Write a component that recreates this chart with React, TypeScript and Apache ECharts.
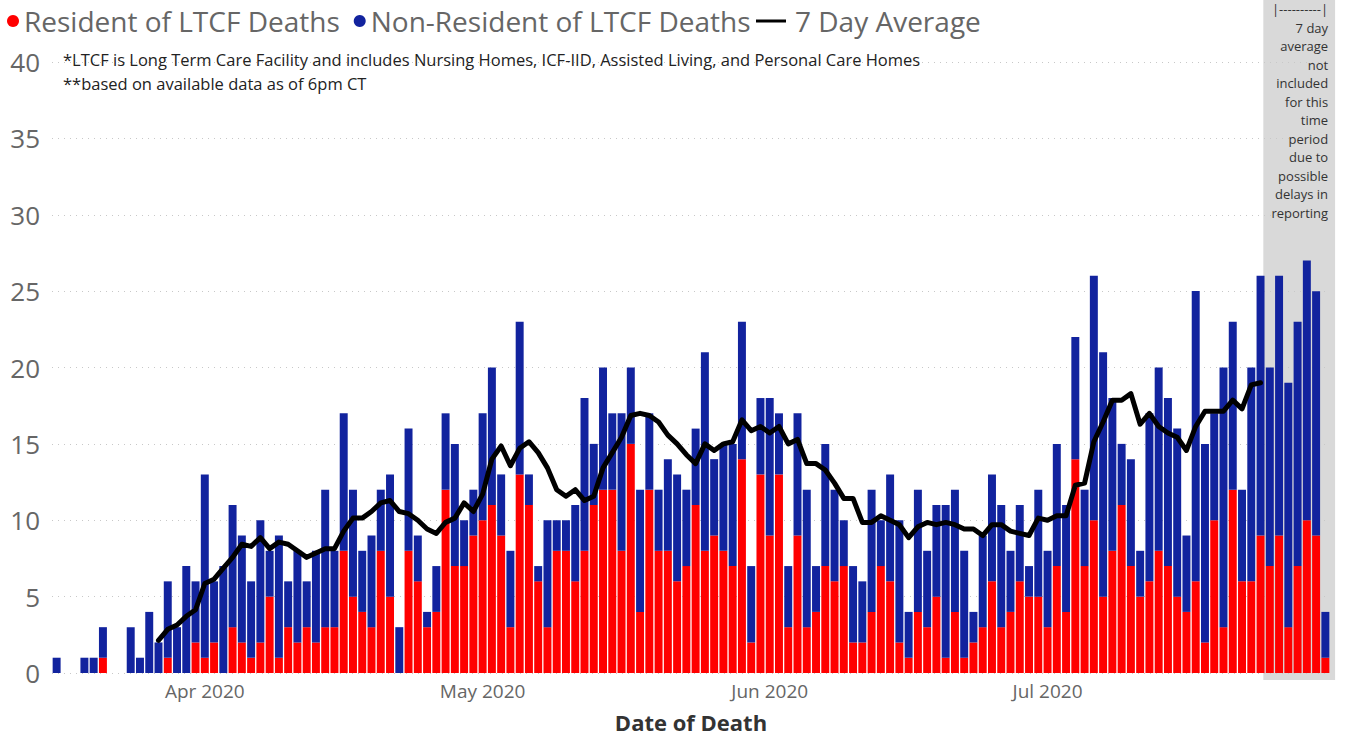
import React, { useEffect, useRef } from "react";
import * as echarts from "echarts";

// Dates of death: 16 Mar 2020 .. 31 Jul 2020 (one category per day)
const FIRST_DAY = "2020-03-16";
const DAY_COUNT = 138;

const monthTickLabels: Record<string, string> = {
  "2020-04-01": "Apr 2020",
  "2020-05-01": "May 2020",
  "2020-06-01": "Jun 2020",
  "2020-07-01": "Jul 2020",
};

// Resident of LTCF deaths (red, bottom of stack)
const residentDeaths = [
  0, 0, 0, 0, 0, 1, 0, 0, 0, 0,
  0, 0, 1, 0, 0, 2, 1, 2, 0, 3,
  2, 1, 2, 5, 1, 3, 2, 3, 2, 3,
  3, 8, 5, 4, 3, 8, 5, 0, 8, 6,
  3, 4, 12, 7, 7, 9, 10, 11, 9, 3,
  13, 11, 6, 3, 8, 8, 6, 8, 11, 12,
  12, 8, 15, 4, 12, 8, 8, 6, 7, 11,
  8, 9, 8, 7, 14, 2, 13, 9, 13, 3,
  9, 3, 4, 7, 6, 7, 2, 2, 4, 7,
  6, 2, 1, 4, 3, 5, 1, 4, 1, 2,
  3, 6, 3, 4, 6, 5, 5, 3, 7, 4,
  14, 7, 10, 5, 8, 11, 7, 5, 6, 8,
  7, 5, 4, 6, 2, 10, 3, 12, 6, 6,
  9, 7, 9, 3, 7, 10, 9, 1,
];

// Non-resident of LTCF deaths (blue, top of stack)
const nonResidentDeaths = [
  1, 0, 0, 1, 1, 2, 0, 0, 3, 1,
  4, 2, 5, 3, 7, 4, 12, 4, 7, 8,
  7, 5, 8, 3, 8, 3, 6, 3, 6, 9,
  5, 9, 7, 4, 6, 4, 8, 3, 8, 3,
  1, 3, 5, 8, 3, 3, 7, 9, 4, 5,
  10, 2, 1, 7, 2, 2, 5, 10, 4, 8,
  5, 9, 5, 8, 5, 4, 6, 7, 5, 5,
  13, 5, 7, 8, 9, 5, 5, 9, 4, 4,
  8, 9, 3, 8, 6, 3, 5, 4, 8, 3,
  7, 8, 3, 8, 5, 6, 10, 8, 7, 2,
  6, 7, 8, 4, 5, 2, 7, 5, 8, 7,
  8, 5, 16, 16, 10, 4, 7, 3, 11, 12,
  11, 11, 5, 19, 13, 7, 17, 11, 6, 14,
  17, 13, 17, 16, 16, 17, 16, 3,
];

// 7 day average (from 27 Mar to 24 Jul)
const AVG_FIRST_INDEX = 11;
const sevenDayAverage = [
  2.14, 2.86, 3.14, 3.71, 4.14, 5.86, 6.14, 6.86, 7.57, 8.43,
  8.29, 8.86, 8.14, 8.57, 8.43, 8.0, 7.57, 7.86, 8.14, 8.14,
  9.29, 10.14, 10.14, 10.57, 11.14, 11.29, 10.57, 10.43, 10.0, 9.43,
  9.14, 9.86, 10.14, 11.14, 10.57, 11.71, 14.0, 14.86, 13.57, 14.71,
  15.14, 14.43, 13.43, 12.0, 11.57, 12.0, 11.29, 11.57, 13.43, 14.43,
  15.43, 16.86, 17.0, 16.86, 16.43, 15.57, 15.0, 14.29, 13.71, 15.0,
  14.57, 15.0, 15.14, 16.57, 15.86, 16.14, 15.71, 16.14, 15.0, 15.29,
  13.71, 13.71, 13.29, 12.43, 11.43, 11.43, 9.86, 9.86, 10.29, 10.0,
  9.71, 8.86, 9.57, 9.86, 9.71, 9.86, 9.71, 9.43, 9.43, 9.0,
  9.71, 9.71, 9.29, 9.14, 9.0, 10.14, 10.0, 10.29, 10.29, 12.29,
  12.43, 15.14, 16.43, 17.86, 17.86, 18.29, 16.29, 17.0, 16.14, 15.71,
  15.43, 14.57, 16.14, 17.14, 17.14, 17.14, 17.86, 17.29, 18.86, 19.0,
];

const yTicks = { min: 0, max: 40, interval: 5 };

const noteLines = [
  "*LTCF is Long Term Care Facility and includes Nursing Homes, ICF-IID, Assisted Living, and Personal Care Homes",
  "**based on available data as of 6pm CT",
];

const delayNoteLines = [
  "|----------|",
  "7 day",
  "average",
  "not",
  "included",
  "for this",
  "time",
  "period",
  "due to",
  "possible",
  "delays in",
  "reporting",
];
// first category covered by the grey "delay" band
const DELAY_FROM_INDEX = 131;

const FONT = '"Open Sans", "Noto Sans", sans-serif';

function buildDates(): string[] {
  const out: string[] = [];
  const d = new Date(FIRST_DAY + "T00:00:00Z");
  for (let i = 0; i < DAY_COUNT; i++) {
    out.push(d.toISOString().slice(0, 10));
    d.setUTCDate(d.getUTCDate() + 1);
  }
  return out;
}

export default function App() {
  const ref = useRef<HTMLDivElement>(null);

  useEffect(() => {
    document.body.style.margin = "0";
    const el = ref.current;
    if (!el) return;
    const chart = echarts.init(el, undefined, { renderer: "svg" });
    const dates = buildDates();
    const avgData: (number | null)[] = dates.map(() => null);
    sevenDayAverage.forEach((v, i) => {
      avgData[AVG_FIRST_INDEX + i] = v;
    });

    chart.setOption({
      animation: false,
      textStyle: { fontFamily: FONT },
      grid: { left: 52, right: 15, top: 62, bottom: 69, containLabel: false },
      legend: [
        {
          left: 2,
          top: 2,
          itemWidth: 12,
          itemHeight: 12,
          itemGap: 14,
          data: [
            { name: "Resident of LTCF Deaths", icon: "circle" },
            { name: "Non-Resident of LTCF Deaths", icon: "circle" },
          ],
          textStyle: { fontSize: 28, color: "#666", fontFamily: FONT },
          selectedMode: false,
        },
        {
          left: 751,
          top: 2,
          itemWidth: 30,
          itemHeight: 3,
          data: [{ name: "7 Day Average", icon: "rect" }],
          textStyle: { fontSize: 28, color: "#666", fontFamily: FONT, padding: [0, 0, 0, 4] },
          selectedMode: false,
        },
      ],
      xAxis: {
        type: "category",
        data: dates,
        boundaryGap: true,
        axisLine: { show: false },
        axisTick: { show: false },
        axisLabel: {
          interval: (_i: number, v: string) => v in monthTickLabels,
          formatter: (v: string) => monthTickLabels[v] ?? "",
          fontSize: 19,
          color: "#666",
          margin: 8,
          fontFamily: FONT,
        },
        name: "Date of Death",
        nameLocation: "middle",
        nameGap: 38,
        nameTextStyle: { fontSize: 22, fontWeight: "bold", color: "#333", fontFamily: FONT },
      },
      yAxis: {
        type: "value",
        min: yTicks.min,
        max: yTicks.max,
        interval: yTicks.interval,
        axisLine: { show: false },
        axisTick: { show: false },
        axisLabel: { fontSize: 26, color: "#666", margin: 12, fontFamily: FONT },
        splitLine: { lineStyle: { color: "#c8c8c8", type: [1, 5], width: 1 } },
      },
      series: [
        {
          name: "Resident of LTCF Deaths",
          type: "bar",
          stack: "deaths",
          data: residentDeaths,
          barCategoryGap: "14%",
          itemStyle: { color: "#FF0000" },
          z: 2,
        },
        {
          name: "Non-Resident of LTCF Deaths",
          type: "bar",
          stack: "deaths",
          data: nonResidentDeaths,
          barCategoryGap: "14%",
          itemStyle: { color: "#12239E" },
          z: 2,
        },
        {
          name: "7 Day Average",
          type: "line",
          data: avgData,
          symbol: "none",
          connectNulls: false,
          lineStyle: { color: "#000", width: 5, join: "round", cap: "round" },
          itemStyle: { color: "#000" },
          z: 5,
        },
      ],
    });

    const xFrom = chart.convertToPixel({ xAxisIndex: 0 }, dates[DELAY_FROM_INDEX - 1]) as number;
    const xNext = chart.convertToPixel({ xAxisIndex: 0 }, dates[DELAY_FROM_INDEX]) as number;
    const xLast = chart.convertToPixel({ xAxisIndex: 0 }, dates[DAY_COUNT - 1]) as number;
    const yZero = chart.convertToPixel({ yAxisIndex: 0 }, 0) as number;
    const band = xNext - xFrom;
    const boxLeft = xFrom + band * 0.3;
    const boxRight = xLast + band * 1.05;

    chart.setOption({
      graphic: [
        {
          type: "rect",
          z: -10,
          silent: true,
          shape: { x: boxLeft, y: 0, width: boxRight - boxLeft, height: yZero + 7 },
          style: { fill: "#d9d9d9" },
        },
        {
          type: "text",
          z: 100,
          silent: true,
          x: boxRight - 7,
          y: 0,
          style: {
            text: delayNoteLines.join("\n"),
            align: "right",
            verticalAlign: "top",
            fontSize: 13,
            fontFamily: FONT,
            lineHeight: 18.5,
            fill: "#333",
          },
        },
        {
          type: "text",
          z: 100,
          silent: true,
          x: 63,
          y: 48,
          style: {
            text: noteLines.join("\n"),
            align: "left",
            verticalAlign: "top",
            fontSize: 16.5,
            fontFamily: FONT,
            lineHeight: 23.5,
            fill: "#222",
          },
        },
      ],
    });

    return () => chart.dispose();
  }, []);

  return <div ref={ref} style={{ width: 1345, height: 742 }} />;
}
